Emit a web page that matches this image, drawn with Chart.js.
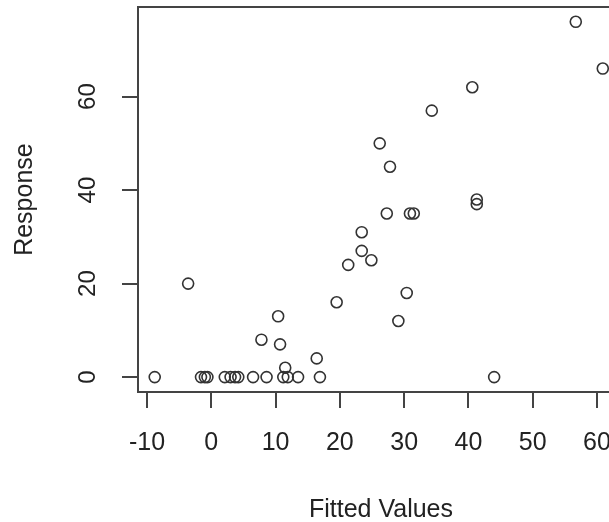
<!DOCTYPE html>
<html>
<head>
<meta charset="utf-8">
<script src="https://cdn.jsdelivr.net/npm/chart.js@4/dist/chart.umd.min.js"></script>
<style>
  html, body { margin: 0; padding: 0; background: #fff; overflow: hidden; }
  #wrap { position: absolute; left: 0; top: 0; width: 640px; height: 522px; }
</style>
</head>
<body>
<div id="wrap"><canvas id="c" width="640" height="522"></canvas></div>
<script>
// Data
const fittedValues = [56.7, 60.9, 40.6, 34.3, 26.2, 27.8, 41.3, 41.3, 27.3, 30.9, 31.5, 23.4, 23.4, 24.9, 21.3, -3.6, 30.4, 19.5, 10.4, 29.1, 7.8, 10.7, 16.4, 11.5,
                      -8.8, -1.6, -1.0, -0.6, 2.1, 3.0, 3.7, 4.2, 6.5, 8.6, 11.2, 11.9, 13.5, 16.9, 44.0];
const responses    = [76, 66, 62, 57, 50, 45, 38, 37, 35, 35, 35, 31, 27, 25, 24, 20, 18, 16, 13, 12, 8, 7, 4, 2,
                      0, 0, 0, 0, 0, 0, 0, 0, 0, 0, 0, 0, 0, 0, 0];
const xTicks = [-10, 0, 10, 20, 30, 40, 50, 60];
const yTicks = [0, 20, 40, 60];
const xTitle = "Fitted Values";
const yTitle = "Response";

const points = fittedValues.map((x, i) => ({ x: x, y: responses[i] }));
const FONT = "'Liberation Sans', Arial, sans-serif";
const AX = '#444';
const TXT = '#222';

const boxPlugin = {
  id: 'box',
  afterDraw(chart) {
    const a = chart.chartArea, ctx = chart.ctx;
    ctx.save();
    ctx.strokeStyle = AX;
    ctx.lineWidth = 2;
    ctx.beginPath();
    ctx.moveTo(a.left, a.top);
    ctx.lineTo(a.right, a.top);
    ctx.lineTo(a.right, a.bottom);
    ctx.stroke();
    ctx.restore();
  }
};

new Chart(document.getElementById('c'), {
  type: 'scatter',
  data: {
    datasets: [{
      data: points,
      pointStyle: 'circle',
      pointRadius: 5.5,
      pointHoverRadius: 5.5,
      backgroundColor: 'rgba(0,0,0,0)',
      borderColor: '#333',
      borderWidth: 1.6
    }]
  },
  options: {
    responsive: false,
    animation: false,
    layout: { padding: { top: 5, right: 16, left: 0, bottom: 0 } },
    plugins: { legend: { display: false }, tooltip: { enabled: false } },
    scales: {
      x: {
        type: 'linear',
        min: -11.4,
        max: 64.2,
        afterFit(s) { s.height = 130; s.paddingLeft = 0; s.paddingRight = 0; },
        afterBuildTicks(s) { s.ticks = xTicks.map(v => ({ value: v })); },
        border: { display: true, color: AX, width: 2 },
        grid: { display: true, drawOnChartArea: false, drawTicks: true, tickLength: 16, color: AX, lineWidth: 2 },
        ticks: { color: TXT, font: { family: FONT, size: 25 }, padding: 20, maxRotation: 0, minRotation: 0 },
        title: { display: true, text: xTitle, color: TXT, font: { family: FONT, size: 25 }, padding: { top: 0, bottom: -3 } }
      },
      y: {
        type: 'linear',
        min: -3.19,
        max: 79.15,
        afterFit(s) { s.width = 138; s.paddingTop = 0; s.paddingBottom = 0; },
        afterBuildTicks(s) { s.ticks = yTicks.map(v => ({ value: v })); },
        border: { display: true, color: AX, width: 2 },
        grid: { display: true, drawOnChartArea: false, drawTicks: true, tickLength: 16, color: AX, lineWidth: 2 },
        ticks: { color: TXT, font: { family: FONT, size: 24 }, padding: 20, minRotation: 90, maxRotation: 90, crossAlign: 'center' },
        title: { display: true, text: yTitle, color: TXT, font: { family: FONT, size: 25 }, padding: { top: 10, bottom: 0 } }
      }
    }
  },
  plugins: [boxPlugin]
});
</script>
</body>
</html>
